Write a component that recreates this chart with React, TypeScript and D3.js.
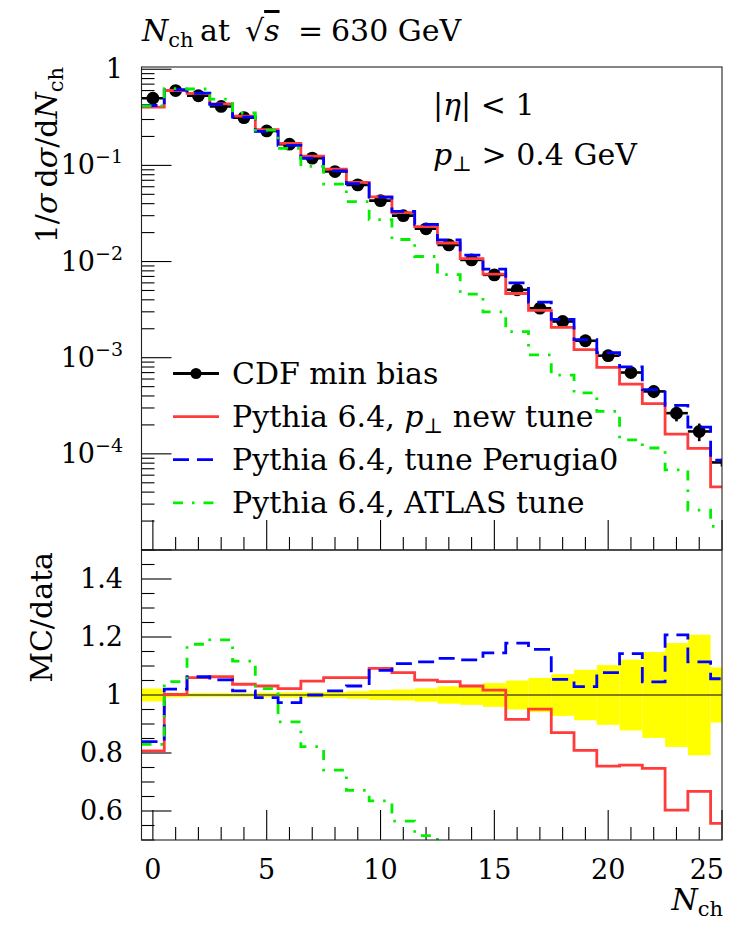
import React, { useEffect, useRef } from 'react';
import * as d3 from 'd3';

// N_ch bins (bin centres), last bin is cut at the frame edge
const nch = [0, 1, 2, 3, 4, 5, 6, 7, 8, 9, 10, 11, 12, 13, 14, 15, 16, 17, 18, 19, 20, 21, 22, 23, 24, 25];

const cdfValues = [0.50, 0.60, 0.53, 0.41, 0.314, 0.228, 0.166, 0.119, 0.0863, 0.0627, 0.043, 0.030, 0.0219,
    0.0149, 0.0104, 0.00727, 0.00508, 0.00327, 0.00238, 0.0015, 0.00105, 0.000701, 0.000446, 0.000265, 0.000171, 8.14e-5];
const cdfRelErr = [0.022, 0.008, 0.006, 0.006, 0.006, 0.008, 0.009, 0.010, 0.010, 0.013, 0.017, 0.019, 0.023,
    0.030, 0.034, 0.041, 0.050, 0.059, 0.072, 0.087, 0.103, 0.122, 0.148, 0.179, 0.208, 0.095];

const ptNewValues = [0.4035, 0.6012, 0.5618, 0.4358, 0.3256, 0.2351, 0.1697, 0.1247, 0.09148, 0.06646, 0.04696, 0.03231, 0.02302,
    0.01559, 0.01072, 0.007394, 0.004653, 0.00311, 0.002071, 0.001214, 0.000793, 0.000531, 0.000333, 0.00016, 0.000114, 4.53e-5];
const ptNewRatio = [0.807, 1.002, 1.060, 1.063, 1.037, 1.031, 1.022, 1.048, 1.060, 1.060, 1.092, 1.077, 1.051,
    1.046, 1.031, 1.017, 0.916, 0.951, 0.870, 0.809, 0.755, 0.758, 0.747, 0.603, 0.668, 0.557];

const perugiaValues = [0.4195, 0.612, 0.5634, 0.4313, 0.3184, 0.2259, 0.1617, 0.119, 0.08751, 0.06464, 0.04666, 0.03324, 0.0244,
    0.01678, 0.01166, 0.008324, 0.005989, 0.003783, 0.002509, 0.001544, 0.001131, 0.000801, 0.000466, 0.00032, 0.00019, 8.6e-5];
const perugiaRatio = [0.839, 1.020, 1.063, 1.052, 1.014, 0.991, 0.974, 1.000, 1.014, 1.031, 1.085, 1.108, 1.114,
    1.126, 1.121, 1.145, 1.179, 1.157, 1.054, 1.029, 1.077, 1.143, 1.045, 1.207, 1.114, 1.056];

const atlasValues = [0.415, 0.6276, 0.6228, 0.4879, 0.3507, 0.233, 0.1506, 0.09782, 0.06395, 0.04207, 0.0273, 0.01695, 0.01128,
    0.0073, 0.00458, 0.0030, 0.00187, 0.00107, 0.00066, 0.000431, 0.000276, 0.00014, 0.000115, 6.8e-5, 2.6e-5, 1.76e-5];
const atlasRatio = [0.830, 1.046, 1.175, 1.190, 1.117, 1.022, 0.907, 0.822, 0.741, 0.671, 0.635, 0.565, 0.515,
    0.49, 0.44, 0.41, 0.37, 0.33, 0.28, 0.29, 0.26, 0.20, 0.26, 0.26, 0.15, 0.22];

const xLabelTicks = [0, 5, 10, 15, 20, 25];
const topLabelExponents = [0, -1, -2, -3, -4];
const ratioLabelTicks = [0.6, 0.8, 1, 1.2, 1.4];

const FONT = '"DejaVu Serif", serif';
const RED = '#ff3b3b';
const BLUE = '#0000ff';
const GREEN = '#00f000';
const BLUE_DASH = '16,8';
const GREEN_DASH = '10,9,2.5,9';

const LEFT = 141.5;
const RIGHT = 722;
const TOP_Y0 = 67;
const TOP_Y1 = 550;
const BOT_Y1 = 840;

const SERIES = [
    { values: ptNewValues, ratio: ptNewRatio, color: RED, dash: null },
    { values: perugiaValues, ratio: perugiaRatio, color: BLUE, dash: BLUE_DASH },
    { values: atlasValues, ratio: atlasRatio, color: GREEN, dash: GREEN_DASH }
];

function stepPoints(values)
{
    const pts = values.map((v, i) => [nch[i] - 0.5, v]);
    pts.push([nch[nch.length - 1] + 0.5, values[values.length - 1]]);
    return pts;
}

function drawHist(g, values, x, y, color, dash)
{
    const line = d3.line()
        .x((d) => x(d[0]))
        .y((d) => y(d[1]))
        .curve(d3.curveStepAfter);
    const path = g.append('path')
        .attr('d', line(stepPoints(values)))
        .attr('fill', 'none')
        .attr('stroke', color)
        .attr('stroke-width', 2.8);
    if (dash) path.attr('stroke-dasharray', dash);
}

function tick(g, x1, y1, x2, y2, width = 1.1)
{
    g.append('line')
        .attr('x1', x1).attr('y1', y1).attr('x2', x2).attr('y2', y2)
        .attr('stroke', '#000').attr('stroke-width', width);
}

function addClip(svg, id, y0, y1)
{
    svg.append('defs').append('clipPath').attr('id', id)
        .append('rect')
        .attr('x', LEFT).attr('y', y0)
        .attr('width', RIGHT - LEFT).attr('height', y1 - y0);
}

function drawTopPanel(svg, x)
{
    const y = d3.scaleLog().domain([1e-5, 1.055]).range([TOP_Y1, TOP_Y0]);
    addClip(svg, 'clipTop', TOP_Y0, TOP_Y1);

    // ticks
    const axes = svg.append('g');
    for (let e = -5; e <= 0; e += 1)
    {
        const base = Math.pow(10, e);
        tick(axes, LEFT, y(base), LEFT + 30, y(base));
        for (let k = 2; k <= 9; k += 1)
        {
            const v = k * base;
            if (v < 1.055) tick(axes, LEFT, y(v), LEFT + 13, y(v));
        }
    }
    nch.forEach((n) =>
    {
        const len = n % 5 === 0 ? 30 : 13;
        tick(axes, x(n), TOP_Y1, x(n), TOP_Y1 - len);
    });

    // tick labels
    topLabelExponents.forEach((e) =>
    {
        const t = svg.append('text')
            .attr('x', 123).attr('y', y(Math.pow(10, e)) + 9)
            .attr('text-anchor', 'end')
            .attr('font-family', FONT).attr('font-size', 27);
        if (e === 0)
        {
            t.text('1');
        }
        else
        {
            t.append('tspan').text('10');
            t.append('tspan').attr('font-size', 19).attr('dy', -11).text(`\u2212${ -e }`);
        }
    });

    const plot = svg.append('g').attr('clip-path', 'url(#clipTop)');

    // data: bin-width bars, error bars, markers
    nch.forEach((n, i) =>
    {
        const v = cdfValues[i];
        tick(plot, x(n - 0.5), y(v), x(n + 0.5), y(v), 2.6);
        tick(plot, x(n), y(v * (1 - cdfRelErr[i])), x(n), y(v * (1 + cdfRelErr[i])), 2.6);
        if (n < 25)
        {
            plot.append('circle')
                .attr('cx', x(n)).attr('cy', y(v)).attr('r', 6.4)
                .attr('fill', '#000');
        }
    });

    SERIES.forEach((s) => drawHist(plot, s.values, x, y, s.color, s.dash));

    svg.append('rect')
        .attr('x', LEFT).attr('y', TOP_Y0)
        .attr('width', RIGHT - LEFT).attr('height', TOP_Y1 - TOP_Y0)
        .attr('fill', 'none').attr('stroke', '#222').attr('stroke-width', 1.1);
}

function drawRatioPanel(svg, x)
{
    const y = d3.scaleLinear().domain([0.5, 1.5]).range([BOT_Y1, TOP_Y1]);
    addClip(svg, 'clipBot', TOP_Y1, BOT_Y1);

    const axes = svg.append('g');
    for (let i = 0; i <= 20; i += 1)
    {
        const v = 0.5 + i * 0.05;
        const len = (i % 4 === 2) ? 30 : 13;
        tick(axes, LEFT, y(v), LEFT + len, y(v));
    }
    nch.forEach((n) =>
    {
        const len = n % 5 === 0 ? 30 : 13;
        tick(axes, x(n), BOT_Y1, x(n), BOT_Y1 - len);
    });

    ratioLabelTicks.forEach((v) =>
    {
        svg.append('text')
            .attr('x', 123).attr('y', y(v) + 9)
            .attr('text-anchor', 'end')
            .attr('font-family', FONT).attr('font-size', 27)
            .text(String(v));
    });

    xLabelTicks.forEach((n) =>
    {
        const last = n === 25;
        svg.append('text')
            .attr('x', last ? 724 : x(n)).attr('y', 879)
            .attr('text-anchor', last ? 'end' : 'middle')
            .attr('font-family', FONT).attr('font-size', 27)
            .text(String(n));
    });

    const plot = svg.append('g').attr('clip-path', 'url(#clipBot)');

    // data uncertainty band
    nch.forEach((n, i) =>
    {
        plot.append('rect')
            .attr('x', x(n - 0.5)).attr('width', x(n + 0.5) - x(n - 0.5))
            .attr('y', y(1 + cdfRelErr[i])).attr('height', y(1 - cdfRelErr[i]) - y(1 + cdfRelErr[i]))
            .attr('fill', '#ffff00');
    });
    tick(plot, LEFT, y(1), RIGHT, y(1));

    SERIES.forEach((s) => drawHist(plot, s.ratio, x, y, s.color, s.dash));

    svg.append('rect')
        .attr('x', LEFT).attr('y', TOP_Y1)
        .attr('width', RIGHT - LEFT).attr('height', BOT_Y1 - TOP_Y1)
        .attr('fill', 'none').attr('stroke', '#222').attr('stroke-width', 1.1);
}

// runs: [text, style] with style 'i' italic, 's' subscript
function addRuns(t, runs)
{
    let shifted = false;
    runs.forEach(([txt, style]) =>
    {
        const sp = t.append('tspan').text(txt);
        if (style === 'i') sp.attr('font-style', 'italic');
        if (style === 's')
        {
            sp.attr('font-size', 21).attr('dy', 6);
            shifted = true;
        }
        else if (shifted)
        {
            sp.attr('dy', -6);
            shifted = false;
        }
    });
}

function drawLegend(svg)
{
    const entries = [
        { label: [['CDF min bias']], color: '#000', dash: null, marker: true },
        { label: [['Pythia 6.4, '], ['p', 'i'], ['\u22a5', 's'], [' new tune']], color: RED, dash: null },
        { label: [['Pythia 6.4, tune Perugia0']], color: BLUE, dash: BLUE_DASH },
        { label: [['Pythia 6.4, ATLAS tune']], color: GREEN, dash: GREEN_DASH }
    ];
    entries.forEach((e, i) =>
    {
        const cy = 373.5 + i * 43.1;
        const l = svg.append('line')
            .attr('x1', 173).attr('x2', 219).attr('y1', cy).attr('y2', cy)
            .attr('stroke', e.color).attr('stroke-width', 2.8);
        if (e.dash) l.attr('stroke-dasharray', e.dash);
        if (e.marker) svg.append('circle').attr('cx', 196).attr('cy', cy).attr('r', 5.5).attr('fill', '#000');
        const t = svg.append('text')
            .attr('x', 232).attr('y', cy + 10)
            .attr('font-family', FONT).attr('font-size', 30);
        addRuns(t, e.label);
    });
}

function drawTexts(svg)
{
    const title = svg.append('text')
        .attr('y', 41)
        .attr('font-family', FONT).attr('font-size', 30);
    title.append('tspan').attr('x', 142).attr('font-style', 'italic').text('N');
    title.append('tspan').attr('font-size', 21).attr('dy', 6).text('ch');
    title.append('tspan').attr('dy', -6).attr('x', 200).text('at');
    title.append('tspan').attr('x', 245).text('\u221a');
    title.append('tspan').attr('font-style', 'italic').style('text-decoration', 'overline').text('s');
    title.append('tspan').attr('x', 298).text('=');
    title.append('tspan').attr('x', 331).text('630 GeV');

    const cut1 = svg.append('text')
        .attr('x', 433).attr('y', 115)
        .attr('font-family', FONT).attr('font-size', 30);
    addRuns(cut1, [['|'], ['\u03b7', 'i'], ['| < 1']]);

    const cut2 = svg.append('text')
        .attr('x', 433).attr('y', 165)
        .attr('font-family', FONT).attr('font-size', 30);
    addRuns(cut2, [['p', 'i'], ['\u22a5', 's'], [' > 0.4 GeV']]);

    const yLabel = svg.append('text')
        .attr('transform', 'translate(57,67) rotate(-90)')
        .attr('text-anchor', 'end')
        .attr('font-family', FONT).attr('font-size', 30);
    addRuns(yLabel, [['1/'], ['\u03c3', 'i'], ['\u2009d'], ['\u03c3', 'i'], ['/d'], ['N', 'i'], ['ch', 's']]);

    svg.append('text')
        .attr('transform', 'translate(52,552) rotate(-90)')
        .attr('text-anchor', 'end')
        .attr('font-family', FONT).attr('font-size', 30)
        .text('MC/data');

    const xLabel = svg.append('text')
        .attr('x', 723).attr('y', 910)
        .attr('text-anchor', 'end')
        .attr('font-family', FONT).attr('font-size', 30);
    addRuns(xLabel, [['N', 'i'], ['ch', 's']]);
}

export default function App()
{
    const svgRef = useRef(null);

    useEffect(() =>
    {
        const svg = d3.select(svgRef.current);
        svg.selectAll('*').remove();
        const x = d3.scaleLinear().domain([-0.5, 25]).range([LEFT, RIGHT]);

        drawTopPanel(svg, x);
        drawRatioPanel(svg, x);
        drawLegend(svg);
        drawTexts(svg);
    }, []);

    return (
        <svg ref={ svgRef } width={ 756 } height={ 929 }
            style={ { position: 'absolute', left: 0, top: 0, background: '#fff' } } />
    );
}
